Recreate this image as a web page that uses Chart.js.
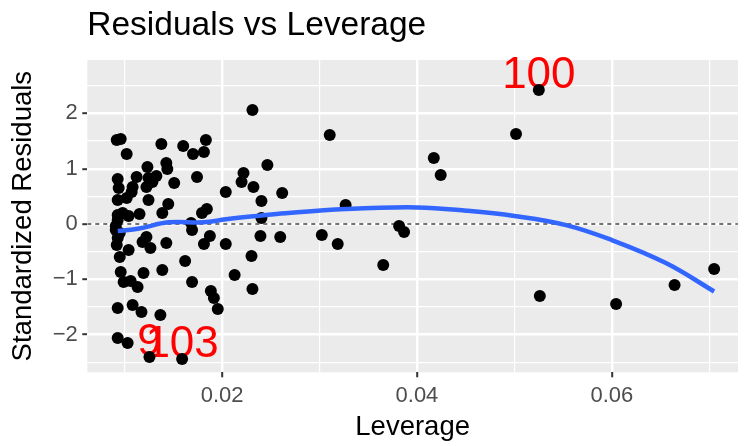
<!DOCTYPE html>
<html><head><meta charset="utf-8">
<script src="https://cdn.jsdelivr.net/npm/chart.js@4.4.1/dist/chart.umd.min.js"></script>
<style>html,body{margin:0;padding:0;background:#fff}#wrap{width:744px;height:446px;position:relative}</style>
</head><body><div id="wrap"><canvas id="c" width="744" height="446"></canvas></div>
<script>
const titleText = 'Residuals vs Leverage';
const xAxisTitle = 'Leverage';
const yAxisTitle = 'Standardized Residuals';

const leverage = [
  0.00919,0.00960,0.01021,0.01377,0.01601,0.01834,0.01702,0.01814,0.01234,0.01428,
  0.01438,0.00929,0.00939,0.01123,0.01245,0.01326,0.01082,0.01224,0.01285,0.01509,
  0.01743,0.01072,0.00929,0.01021,0.01245,0.01387,0.01448,0.01153,0.00980,0.01041,
  0.01794,0.01844,0.02038,0.02200,0.02220,0.02322,0.02404,0.02465,0.02312,0.02617,
  0.03105,0.03268,0.02597,0.03024,0.03187,0.03654,0.03817,0.03868,0.04173,0.04244,
  0.05017,0.05251,0.05261,0.06044,0.06644,0.07050,0.00929,0.00909,0.00929,0.00919,
  0.00950,0.01041,0.00960,0.00990,0.01062,0.01133,0.00929,0.01082,0.01173,0.01367,
  0.00929,0.01031,0.01255,0.01590,0.01184,0.01224,0.01265,0.01428,0.01692,0.01682,
  0.01875,0.01814,0.02038,0.02394,0.02404,0.01621,0.01387,0.01194,0.01692,0.02129,
  0.02302,0.02312,0.01885,0.01916,0.01956,0.00929,0.00950,0.00909
];
const stdResiduals = [
  1.519,1.537,1.266,1.447,1.410,1.519,1.266,1.302,1.031,1.103,
  0.995,0.814,0.651,0.850,0.832,0.868,0.669,0.669,0.759,0.741,
  0.850,0.579,0.434,0.470,0.434,0.199,0.362,0.181,0.199,0.145,
  0.199,0.271,0.579,0.759,0.922,0.669,0.416,1.067,2.061,0.561,
  1.609,0.344,-0.235,-0.199,-0.362,-0.741,-0.036,-0.145,1.193,0.886,
  1.627,2.423,-1.302,-1.447,-1.103,-0.814,0.072,-0.108,-0.253,-0.380,
  -0.597,-0.470,-0.868,-1.049,-1.031,-1.139,-1.519,-1.465,-1.591,-1.646,
  -2.061,-2.152,-2.405,-2.441,-0.325,-0.235,-0.434,-0.344,-0.108,0.018,
  -0.217,-0.362,-0.362,-0.217,0.108,-0.669,-0.832,-0.886,-1.049,-0.922,
  -0.579,-1.175,-1.212,-1.338,-1.537,0.163,-0.163,-0.036
];

const smoothLeverage = [0.0093,0.0115,0.0145,0.0181,0.0204,0.0235,0.0256,0.0327,0.0400,0.0451,0.0500,0.0553,0.0600,0.0656,0.0705];
const smoothResiduals = [-0.127,-0.08,0.03,0.03,0.085,0.145,0.18,0.27,0.30,0.24,0.145,-0.02,-0.29,-0.71,-1.22];

const labelTexts = ['100','9','103'];
const labelLeverage = [0.05251,0.01255,0.01590];
const labelResiduals = [2.423,-2.405,-2.441];

const referenceLineY = 0;

const xMajorTicks = [0.02,0.04,0.06];
const xTickLabels = ['0.02','0.04','0.06'];
const xMinorTicks = [0.01,0.03,0.05,0.07];
const yMajorTicks = [-2,-1,0,1,2];
const yTickLabels = ['\u22122','\u22121','0','1','2'];
const yMinorTicks = [-2.5,-1.5,-0.5,0.5,1.5,2.5];

const xLimits = [0.00617, 0.07295];
const yLimits = [-2.682, 2.966];

const FONT = '"Liberation Sans", Arial, Helvetica, sans-serif';

function majorIndex(list, v){ return list.findIndex(m => Math.abs(m - v) < 1e-9); }

const panelBg = {
  id: 'panelBg',
  beforeDraw(chart){
    const {ctx, chartArea:a} = chart;
    ctx.save();
    ctx.fillStyle = '#EBEBEB';
    ctx.fillRect(a.left, a.top, a.right - a.left, a.bottom - a.top);
    ctx.restore();
  }
};

const pointLabels = {
  id: 'pointLabels',
  beforeDatasetsDraw(chart){
    const {ctx} = chart;
    const xs = chart.scales.x, ys = chart.scales.y;
    ctx.save();
    ctx.fillStyle = '#FF0000';
    ctx.font = '44px ' + FONT;
    ctx.textAlign = 'center';
    ctx.textBaseline = 'middle';
    labelTexts.forEach((t, i) => {
      const px = xs.getPixelForValue(labelLeverage[i]);
      const py = ys.getPixelForValue(labelResiduals[i]);
      ctx.fillText(t, px, py - 14);
    });
    ctx.restore();
  }
};

const points = leverage.map((v, i) => ({x: v, y: stdResiduals[i]}));
const smooth = smoothLeverage.map((v, i) => ({x: v, y: smoothResiduals[i]}));
const refLine = [{x: xLimits[0], y: referenceLineY}, {x: xLimits[1], y: referenceLineY}];

new Chart(document.getElementById('c'), {
  type: 'scatter',
  data: {
    datasets: [
      {data: smooth, showLine: true, borderColor: '#3366FF', borderWidth: 4.5, pointRadius: 0, tension: 0.4, fill: false},
      {data: points, backgroundColor: '#000000', borderWidth: 0, pointRadius: 6, pointHoverRadius: 6},
      {data: refLine, showLine: true, borderColor: '#000000', borderWidth: 1.1, borderDash: [4,4], pointRadius: 0, fill: false}
    ]
  },
  options: {
    responsive: false,
    animation: false,
    devicePixelRatio: 1,
    layout: {padding: 0},
    plugins: {
      legend: {display: false},
      tooltip: {enabled: false},
      title: {
        display: true, text: titleText, align: 'start', fullSize: false, color: '#000000',
        font: {family: FONT, size: 33.5, weight: 'normal', lineHeight: 1.2},
        padding: {top: 5.6, bottom: 14.2}
      }
    },
    scales: {
      x: {
        type: 'linear', position: 'bottom', min: xLimits[0], max: xLimits[1],
        afterBuildTicks: s => { s.ticks = xMinorTicks.concat(xMajorTicks).sort((a,b)=>a-b).map(v => ({value: v})); },
        afterFit: s => { s.height = 73.7; },
        border: {display: false},
        grid: {
          color: '#FFFFFF',
          lineWidth: c => majorIndex(xMajorTicks, c.tick.value) >= 0 ? 2.4 : 1.2,
          tickColor: c => majorIndex(xMajorTicks, c.tick.value) >= 0 ? '#333333' : 'rgba(0,0,0,0)',
          tickWidth: c => majorIndex(xMajorTicks, c.tick.value) >= 0 ? 2 : 0,
          tickLength: 5, drawTicks: true
        },
        ticks: {
          autoSkip: false, maxRotation: 0, padding: 5, color: '#4D4D4D',
          font: {family: FONT, size: 22},
          callback: v => { const i = majorIndex(xMajorTicks, v); return i >= 0 ? xTickLabels[i] : ''; }
        },
        title: {display: true, text: xAxisTitle, color: '#000000', font: {family: FONT, size: 27.5, lineHeight: 1.2}, padding: {top: 0, bottom: 2.4}}
      },
      y: {
        type: 'linear', position: 'left', min: yLimits[0], max: yLimits[1],
        afterBuildTicks: s => { s.ticks = yMinorTicks.concat(yMajorTicks).sort((a,b)=>a-b).map(v => ({value: v})); },
        afterFit: s => { s.width = 87.3; },
        border: {display: false},
        grid: {
          color: '#FFFFFF',
          lineWidth: c => majorIndex(yMajorTicks, c.tick.value) >= 0 ? 2.4 : 1.2,
          tickColor: c => majorIndex(yMajorTicks, c.tick.value) >= 0 ? '#333333' : 'rgba(0,0,0,0)',
          tickWidth: c => majorIndex(yMajorTicks, c.tick.value) >= 0 ? 2 : 0,
          tickLength: 5, drawTicks: true
        },
        ticks: {
          autoSkip: false, padding: 4.5, color: '#4D4D4D',
          font: {family: FONT, size: 22},
          callback: v => { const i = majorIndex(yMajorTicks, v); return i >= 0 ? yTickLabels[i] : ''; }
        },
        title: {display: true, text: yAxisTitle, color: '#000000', font: {family: FONT, size: 27.5, lineHeight: 1.2}, padding: {top: 7, bottom: 0}}
      }
    }
  },
  plugins: [panelBg, pointLabels]
});
</script>
</body></html>
